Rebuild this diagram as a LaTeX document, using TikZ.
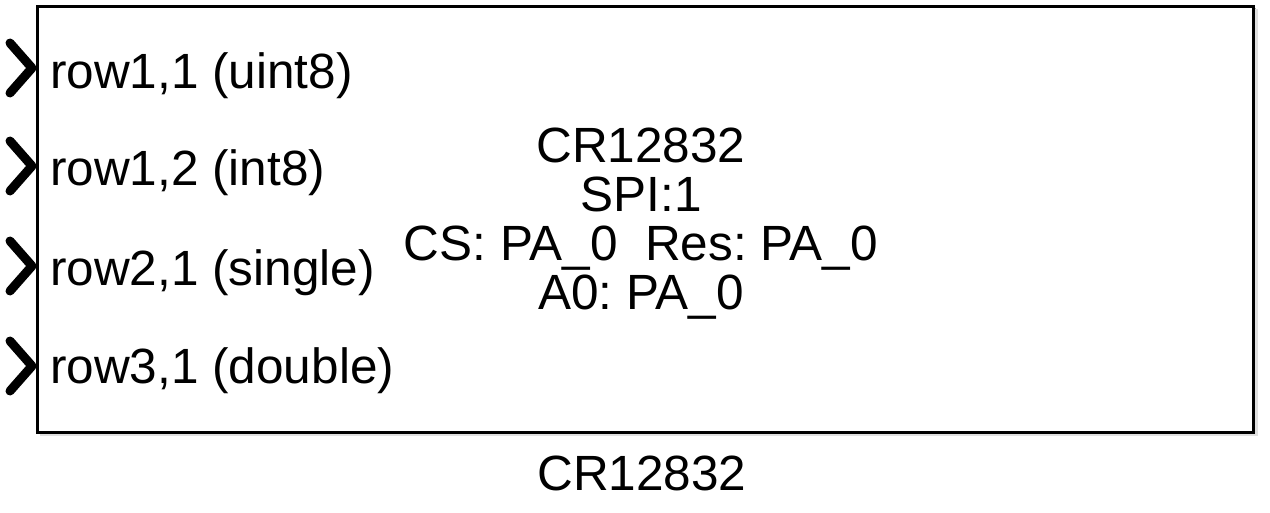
\documentclass[tikz,border=0pt]{standalone}
\usepackage{fontspec}
\setmainfont{Liberation Sans}
\usetikzlibrary{calc}
\begin{document}
\frenchspacing
\begin{tikzpicture}[x=1pt,y=-1pt,
  lbl/.style={inner sep=0pt,font=\fontsize{49.5}{49}\selectfont},
  port/.style={line width=9pt,line cap=round,line join=round},
  blockbox/.style={draw=black,line width=2.5pt,fill=white}]
\useasboundingbox (0,0) rectangle (1270,512);
% shadow
\fill[black!30] (39,8) rectangle (1256,434);
\fill[black!12] (40,9) rectangle (1258,436);
\node[blockbox,minimum width=1216pt,minimum height=426pt,anchor=north west,inner sep=0pt] (blk) at (36,5) {};
% ports
\foreach \i/\cy in {1/68,2/166,3/266,4/366}{
  \coordinate (p\i) at (32,\cy);
  \draw[port] ($(p\i)+(-22,-25)$) -- (p\i) -- ($(p\i)+(-22,25)$);
}
% port labels
\node[lbl,anchor=base west] (r1) at (50,88) {row1,1 (uint8)};
\node[lbl,anchor=base west] (r2) at (50,185) {row1,2 (int8)};
\node[lbl,anchor=base west] (r3) at (50,285) {row2,1 (single)};
\node[lbl,anchor=base west] (r4) at (50,383) {row3,1 (double)};
% center text
\node[lbl,anchor=base] (c1) at (641,162) {CR12832};
\node[lbl,anchor=base] (c2) at (641,211) {SPI:1};
\node[lbl,anchor=base] (c3) at (641,260) {CS: PA\_0\ \ Res: PA\_0};
\node[lbl,anchor=base] (c4) at (641,309) {A0: PA\_0};
% name below
\node[lbl,anchor=base] (name) at (642,490) {CR12832};
\end{tikzpicture}
\end{document}
